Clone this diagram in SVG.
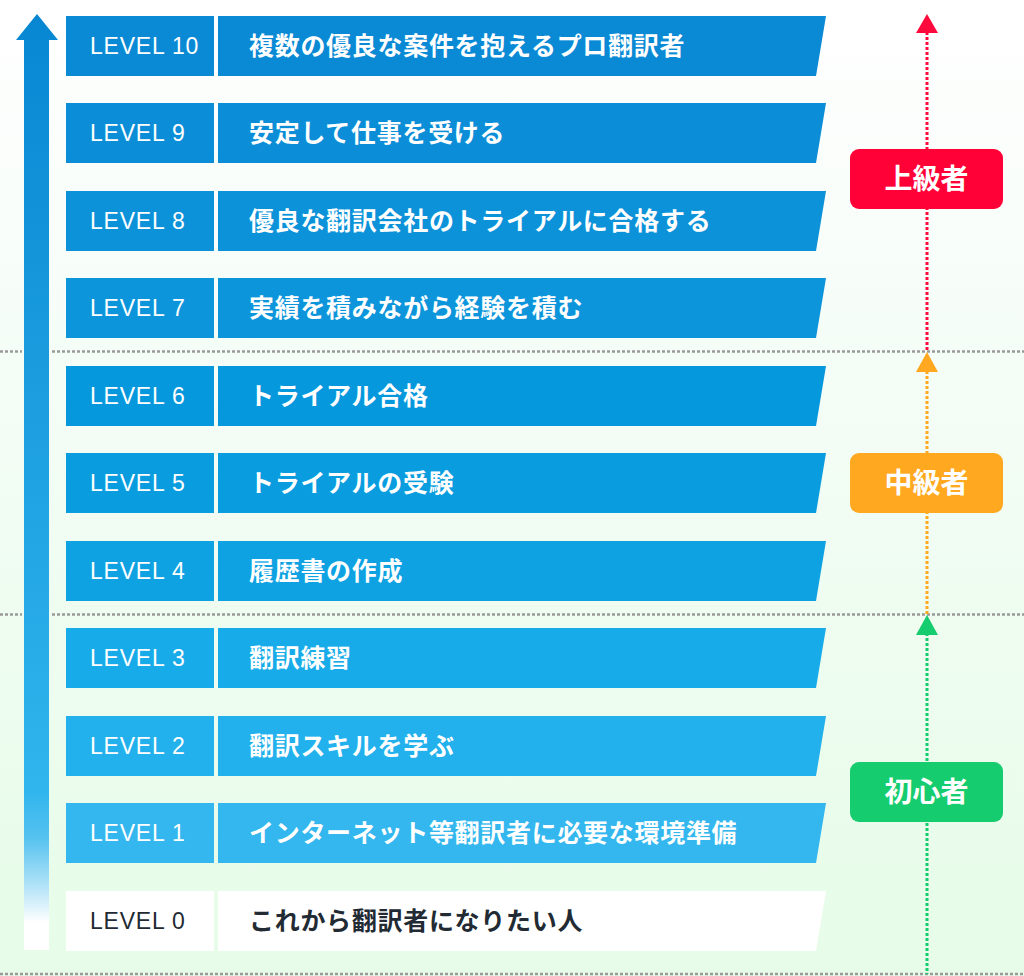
<svg xmlns="http://www.w3.org/2000/svg" width="1024" height="976" viewBox="0 0 1024 976">
<defs>
<linearGradient id="bg" x1="0" y1="0" x2="0" y2="1">
<stop offset="0" stop-color="#ffffff"/>
<stop offset="0.35" stop-color="#f5fdf7"/>
<stop offset="1" stop-color="#e6fce8"/>
</linearGradient>
<linearGradient id="arrowGrad" gradientUnits="userSpaceOnUse" x1="0" y1="14" x2="0" y2="950">
<stop offset="0" stop-color="#0787d2"/>
<stop offset="0.83" stop-color="#30b5ed"/>
<stop offset="0.88" stop-color="#55c2f0"/>
<stop offset="0.935" stop-color="#b8e5f8"/>
<stop offset="0.97" stop-color="#ffffff"/>
</linearGradient>
<style>
.lbl{font-family:"Liberation Sans","Noto Sans",sans-serif;font-size:23px;letter-spacing:0.8px;fill:#ffffff}
.txt{font-family:"Noto Sans CJK JP","Noto Sans",sans-serif;font-size:25px;font-weight:bold;letter-spacing:0.7px;fill:#ffffff}
.dark{fill:#222a33}
.badge{font-family:"Noto Sans CJK JP","Noto Sans",sans-serif;font-size:28px;font-weight:bold;fill:#ffffff;text-anchor:middle}
.div{stroke:#9a9a9a;stroke-width:2.5;stroke-dasharray:3 2;fill:none}
.dot{stroke-width:3;stroke-dasharray:3 2;fill:none}
</style>
</defs>
<rect x="0" y="0" width="1024" height="976" fill="url(#bg)"/>

<g id="dividers">
<line class="div" x1="0" y1="351.5" x2="22" y2="351.5"/>
<line class="div" x1="52" y1="351.5" x2="1024" y2="351.5"/>
<line class="div" x1="0" y1="614.5" x2="22" y2="614.5"/>
<line class="div" x1="52" y1="614.5" x2="1024" y2="614.5"/>
<line class="div" x1="0" y1="974" x2="1024" y2="974"/>
</g>

<g id="progress-arrow">
<polygon points="37,14 58,40 49,40 49,950 24,950 24,40 16,40" fill="url(#arrowGrad)"/>
</g>

<g id="level10">
<rect x="66" y="16" width="148" height="60" fill="#0a8ad5"/>
<polygon points="218,16 826,16 816,76 218,76" fill="#0a8ad5"/>
<text class="lbl" x="90" y="54">LEVEL 10</text>
<text class="txt" x="249" y="55">複数の優良な案件を抱えるプロ翻訳者</text>
</g>
<g id="level9">
<rect x="66" y="103" width="148" height="60" fill="#0b8ed7"/>
<polygon points="218,103 826,103 816,163 218,163" fill="#0b8ed7"/>
<text class="lbl" x="90" y="141">LEVEL 9</text>
<text class="txt" x="249" y="142">安定して仕事を受ける</text>
</g>
<g id="level8">
<rect x="66" y="191" width="148" height="60" fill="#0c92d9"/>
<polygon points="218,191 826,191 816,251 218,251" fill="#0c92d9"/>
<text class="lbl" x="90" y="229">LEVEL 8</text>
<text class="txt" x="249" y="230">優良な翻訳会社のトライアルに合格する</text>
</g>
<g id="level7">
<rect x="66" y="278" width="148" height="60" fill="#0d95db"/>
<polygon points="218,278 826,278 816,338 218,338" fill="#0d95db"/>
<text class="lbl" x="90" y="316">LEVEL 7</text>
<text class="txt" x="249" y="317">実績を積みながら経験を積む</text>
</g>
<g id="level6">
<rect x="66" y="366" width="148" height="60" fill="#0698dd"/>
<polygon points="218,366 826,366 816,426 218,426" fill="#0698dd"/>
<text class="lbl" x="90" y="404">LEVEL 6</text>
<text class="txt" x="249" y="405">トライアル合格</text>
</g>
<g id="level5">
<rect x="66" y="453" width="148" height="60" fill="#099ddf"/>
<polygon points="218,453 826,453 816,513 218,513" fill="#099ddf"/>
<text class="lbl" x="90" y="491">LEVEL 5</text>
<text class="txt" x="249" y="492">トライアルの受験</text>
</g>
<g id="level4">
<rect x="66" y="541" width="148" height="60" fill="#0ea2e3"/>
<polygon points="218,541 826,541 816,601 218,601" fill="#0ea2e3"/>
<text class="lbl" x="90" y="579">LEVEL 4</text>
<text class="txt" x="249" y="580">履歴書の作成</text>
</g>
<g id="level3">
<rect x="66" y="628" width="148" height="60" fill="#18abe9"/>
<polygon points="218,628 826,628 816,688 218,688" fill="#18abe9"/>
<text class="lbl" x="90" y="666">LEVEL 3</text>
<text class="txt" x="249" y="667">翻訳練習</text>
</g>
<g id="level2">
<rect x="66" y="716" width="148" height="60" fill="#22b1ec"/>
<polygon points="218,716 826,716 816,776 218,776" fill="#22b1ec"/>
<text class="lbl" x="90" y="754">LEVEL 2</text>
<text class="txt" x="249" y="755">翻訳スキルを学ぶ</text>
</g>
<g id="level1">
<rect x="66" y="803" width="148" height="60" fill="#33b7ee"/>
<polygon points="218,803 826,803 816,863 218,863" fill="#33b7ee"/>
<text class="lbl" x="90" y="841">LEVEL 1</text>
<text class="txt" x="249" y="842">インターネット等翻訳者に必要な環境準備</text>
</g>
<g id="level0">
<rect x="66" y="891" width="148" height="60" fill="#ffffff"/>
<polygon points="218,891 826,891 816,951 218,951" fill="#ffffff"/>
<text class="lbl dark" x="90" y="929">LEVEL 0</text>
<text class="txt dark" x="249" y="930">これから翻訳者になりたい人</text>
</g>

<g id="connectors">
<line class="dot" x1="927" y1="32" x2="927" y2="351" stroke="#ff0a3c"/>
<polygon points="927,14 938,33 916,33" fill="#ff0a3c"/>
<line class="dot" x1="927" y1="371" x2="927" y2="614" stroke="#ffa820"/>
<polygon points="927,352 938,372 916,372" fill="#ffa820"/>
<line class="dot" x1="927" y1="633" x2="927" y2="974" stroke="#15cc6e"/>
<polygon points="927,615 938,635 916,635" fill="#15cc6e"/>
</g>

<g id="badge-advanced">
<rect x="850" y="149" width="153" height="60" rx="9" fill="#ff0037"/>
<text class="badge" x="926.5" y="189">上級者</text>
</g>
<g id="badge-intermediate">
<rect x="850" y="453" width="153" height="60" rx="9" fill="#ffa820"/>
<text class="badge" x="926.5" y="493">中級者</text>
</g>
<g id="badge-beginner">
<rect x="850" y="762" width="153" height="60" rx="9" fill="#15cc6e"/>
<text class="badge" x="926.5" y="802">初心者</text>
</g>
</svg>
